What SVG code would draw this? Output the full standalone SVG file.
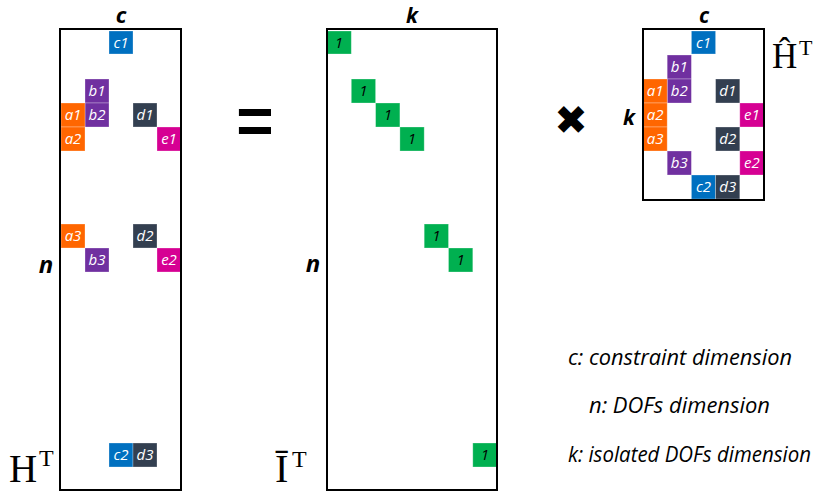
<svg xmlns="http://www.w3.org/2000/svg" width="816" height="492" viewBox="0 0 816 492">
<style>
.mat{fill:none;stroke:#000;stroke-width:2}
.c rect{stroke:#ffffff;stroke-opacity:0.35;stroke-width:0.8}
.c text{font-family:"Open Sans","Liberation Sans",sans-serif;font-style:italic;font-size:15px;fill:#fff;text-anchor:middle}
.g rect{fill:#00B050}
.g text{fill:#000}
.A{fill:#FF6600}.B{fill:#7030A0}.C{fill:#0070C0}.D{fill:#333F50}.E{fill:#D60093}
.dim{font-family:"Open Sans","Liberation Sans",sans-serif;font-style:italic;font-weight:bold;fill:#000;text-anchor:middle}
.leg{font-family:"Open Sans","Liberation Sans",sans-serif;font-style:italic;font-size:21px;fill:#000}
.math{font-family:"Liberation Serif",serif;fill:#000}
.op{font-weight:bold;fill:#000;text-anchor:middle}
</style>
<g id="connectors"/>
<g id="matrix-HT">
  <g class="c">
    <rect class="C" x="109" y="31" width="24" height="23"/><text x="121" y="48">c1</text>
    <rect class="B" x="85" y="79" width="24" height="24"/><text x="97" y="96">b1</text>
    <rect class="B" x="85" y="103" width="24" height="24"/><text x="97" y="120">b2</text>
    <rect class="A" x="61" y="103" width="24" height="24"/><text x="73" y="120">a1</text>
    <rect class="A" x="61" y="127" width="24" height="24"/><text x="73" y="144">a2</text>
    <rect class="D" x="133" y="103" width="24" height="24"/><text x="145" y="120">d1</text>
    <rect class="E" x="157" y="127" width="24" height="24"/><text x="169" y="144">e1</text>
    <rect class="A" x="61" y="224" width="24" height="24"/><text x="73" y="241">a3</text>
    <rect class="D" x="133" y="224" width="24" height="24"/><text x="145" y="241">d2</text>
    <rect class="B" x="85" y="248" width="24" height="24"/><text x="97" y="265">b3</text>
    <rect class="E" x="157" y="248" width="24" height="24"/><text x="169" y="265">e2</text>
    <rect class="C" x="109" y="443" width="24" height="24"/><text x="121" y="460">c2</text>
    <rect class="D" x="133" y="443" width="24" height="24"/><text x="145" y="460">d3</text>
  </g>
  <rect class="mat" x="60" y="29" width="121" height="461"/>
  <text class="dim" x="121" y="23" font-size="22">c</text>
  <text class="dim" x="46" y="273" font-size="24">n</text>
  <text class="math" x="9" y="482" font-size="39">H<tspan font-size="24" x="39" y="466">T</tspan></text>
</g>
<g id="equals">
  <text class="op" x="255" y="143" font-family="Liberation Sans, sans-serif" font-size="64">=</text>
</g>
<g id="matrix-IT">
  <g class="c g">
    <rect x="327" y="31" width="24.3" height="23"/><text x="339" y="48">1</text>
    <rect x="351.3" y="79" width="24.3" height="24"/><text x="363.5" y="96">1</text>
    <rect x="375.6" y="103" width="24.3" height="24"/><text x="387.8" y="120">1</text>
    <rect x="399.9" y="127" width="24.3" height="24"/><text x="412" y="144">1</text>
    <rect x="424.2" y="224" width="24.3" height="24"/><text x="436.4" y="241">1</text>
    <rect x="448.5" y="248" width="24.3" height="24"/><text x="460.7" y="265">1</text>
    <rect x="472.8" y="443" width="24.3" height="24"/><text x="485" y="460">1</text>
  </g>
  <rect class="mat" x="327" y="29" width="170" height="461"/>
  <text class="dim" x="412" y="23" font-size="21">k</text>
  <text class="dim" x="313" y="272" font-size="24">n</text>
  <text class="math" x="275" y="482" font-size="40">Ī<tspan font-size="24" x="292" y="467">T</tspan></text>
</g>
<g id="times">
  <text class="op" x="571" y="134" font-family="DejaVu Sans, sans-serif" font-size="40">✖</text>
</g>
<g id="matrix-HhatT">
  <g class="c">
    <rect class="C" x="691.4" y="31" width="24.2" height="23"/><text x="703.5" y="48">c1</text>
    <rect class="B" x="667.2" y="55" width="24.2" height="24"/><text x="679.3" y="72">b1</text>
    <rect class="B" x="667.2" y="79" width="24.2" height="24"/><text x="679.3" y="96">b2</text>
    <rect class="A" x="643" y="79" width="24.2" height="24"/><text x="655.1" y="96">a1</text>
    <rect class="A" x="643" y="103" width="24.2" height="24"/><text x="655.1" y="120">a2</text>
    <rect class="A" x="643" y="127" width="24.2" height="24"/><text x="655.1" y="144">a3</text>
    <rect class="D" x="715.6" y="79" width="24.2" height="24"/><text x="727.7" y="96">d1</text>
    <rect class="E" x="739.8" y="103" width="24.2" height="24"/><text x="751.9" y="120">e1</text>
    <rect class="D" x="715.6" y="127" width="24.2" height="24"/><text x="727.7" y="144">d2</text>
    <rect class="B" x="667.2" y="151" width="24.2" height="24"/><text x="679.3" y="168">b3</text>
    <rect class="E" x="739.8" y="151" width="24.2" height="24"/><text x="751.9" y="168">e2</text>
    <rect class="C" x="691.4" y="175" width="24.2" height="24"/><text x="703.5" y="192">c2</text>
    <rect class="D" x="715.6" y="175" width="24.2" height="24"/><text x="727.7" y="192">d3</text>
  </g>
  <rect class="mat" x="643" y="29" width="121" height="171"/>
  <text class="dim" x="704" y="23" font-size="21">c</text>
  <text class="dim" x="629" y="125" font-size="21">k</text>
  <text class="math" x="772" y="68" font-size="35">Ĥ<tspan font-size="22" x="799" y="55">T</tspan></text>
</g>
<g id="legend">
  <text class="leg" x="568" y="365" textLength="224" lengthAdjust="spacingAndGlyphs">c: constraint dimension</text>
  <text class="leg" x="589" y="413" textLength="181" lengthAdjust="spacingAndGlyphs">n: DOFs dimension</text>
  <text class="leg" x="568" y="462" textLength="243" lengthAdjust="spacingAndGlyphs">k: isolated DOFs dimension</text>
</g>
</svg>
